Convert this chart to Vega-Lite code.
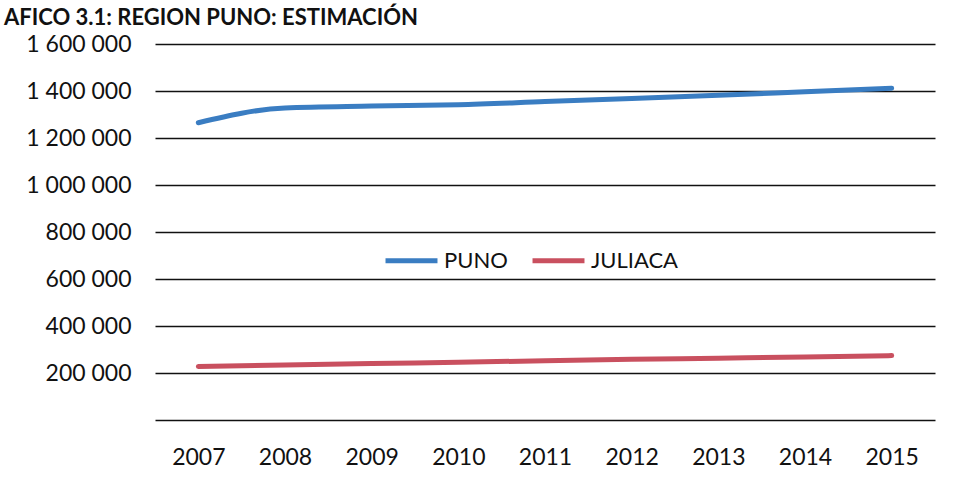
{
  "$schema": "https://vega.github.io/schema/vega-lite/v6.json",
  "width": 780,
  "height": 376,
  "autosize": {"type": "none"},
  "padding": {"left": 155, "top": 44, "right": 25, "bottom": 64},
  "background": "white",
  "title": {
    "text": "AFICO 3.1: REGION PUNO: ESTIMACIÓN",
    "anchor": "start",
    "frame": "group",
    "dx": -151,
    "offset": 3,
    "font": "Lato",
    "fontSize": 22,
    "fontWeight": "bold",
    "color": "#111111"
  },
  "data": {
    "values": [
      {"year": "2007", "serie": "PUNO", "value": 1265000},
      {"year": "2008", "serie": "PUNO", "value": 1328000},
      {"year": "2009", "serie": "PUNO", "value": 1336000},
      {"year": "2010", "serie": "PUNO", "value": 1342000},
      {"year": "2011", "serie": "PUNO", "value": 1355000},
      {"year": "2012", "serie": "PUNO", "value": 1368000},
      {"year": "2013", "serie": "PUNO", "value": 1382000},
      {"year": "2014", "serie": "PUNO", "value": 1397000},
      {"year": "2015", "serie": "PUNO", "value": 1412000},
      {"year": "2007", "serie": "JULIACA", "value": 228000},
      {"year": "2008", "serie": "JULIACA", "value": 234000},
      {"year": "2009", "serie": "JULIACA", "value": 240000},
      {"year": "2010", "serie": "JULIACA", "value": 246000},
      {"year": "2011", "serie": "JULIACA", "value": 252000},
      {"year": "2012", "serie": "JULIACA", "value": 258000},
      {"year": "2013", "serie": "JULIACA", "value": 263000},
      {"year": "2014", "serie": "JULIACA", "value": 268000},
      {"year": "2015", "serie": "JULIACA", "value": 274000}
    ]
  },
  "mark": {"type": "line", "strokeWidth": 5, "interpolate": "monotone", "strokeCap": "round"},
  "encoding": {
    "x": {
      "field": "year",
      "type": "ordinal",
      "scale": {"type": "point", "padding": 0.5},
      "axis": {
        "title": null,
        "labelAngle": 0,
        "labelFont": "Lato",
        "labelFontSize": 23,
        "labelColor": "#111111",
        "labelPadding": 26,
        "ticks": false,
        "domain": false,
        "grid": false
      }
    },
    "y": {
      "field": "value",
      "type": "quantitative",
      "scale": {"domain": [0, 1600000]},
      "axis": {
        "title": null,
        "values": [0, 200000, 400000, 600000, 800000, 1000000, 1200000, 1400000, 1600000],
        "labelExpr": "datum.value == 0 ? '' : replace(format(datum.value, ',d'), /,/g, ' ')",
        "labelFont": "Lato",
        "labelFontSize": 23,
        "labelColor": "#111111",
        "labelPadding": 24,
        "ticks": false,
        "domain": false,
        "grid": true,
        "gridColor": "#111111",
        "gridWidth": 1.6,
        "gridOpacity": 1
      }
    },
    "color": {
      "field": "serie",
      "type": "nominal",
      "scale": {"domain": ["PUNO", "JULIACA"], "range": ["#3A7DC2", "#C9505F"]},
      "legend": {
        "title": null,
        "orient": "none",
        "direction": "horizontal",
        "legendX": 228,
        "legendY": 188,
        "symbolType": "stroke",
        "symbolSize": 2700,
        "symbolStrokeWidth": 5,
        "labelFont": "Lato",
        "labelFontSize": 22,
        "labelColor": "#111111",
        "labelOffset": 4,
        "columnPadding": 14
      }
    }
  },
  "config": {"view": {"stroke": null}}
}
